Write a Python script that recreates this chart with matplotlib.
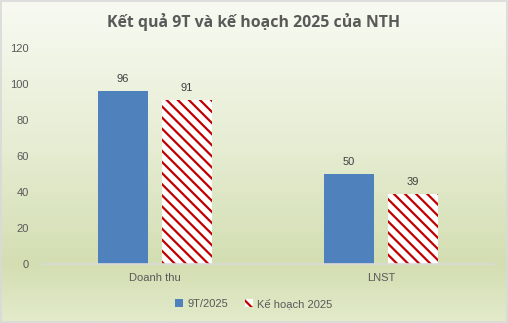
import numpy as np
import matplotlib
matplotlib.use("Agg")
import matplotlib.pyplot as plt
from matplotlib.patches import Patch, Rectangle
from matplotlib.colors import LinearSegmentedColormap

categories = ["Doanh thu", "LNST"]
series_names = ["9T/2025", "Kế hoạch 2025"]
actual_9t = [96, 50]
plan_2025 = [91, 39]
yticks = [0, 20, 40, 60, 80, 100, 120]

title = "Kết quả 9T và kế hoạch 2025 của NTH"

BLUE = "#4F81BD"
RED = "#C00000"
TXT = "#595959"

plt.rcParams["hatch.linewidth"] = 1.6

fig = plt.figure(figsize=(5.08, 3.23), dpi=100)

# gradient background
bg = fig.add_axes([0, 0, 1, 1], zorder=-10)
cmap = LinearSegmentedColormap.from_list(
    "bg", [(0.0, "#F8FAF2"), (0.45, "#E6EDD3"), (0.82, "#D3DEB2"), (1.0, "#E3EBCB")])
grad = np.linspace(0, 1, 256).reshape(-1, 1)
bg.imshow(grad, aspect="auto", cmap=cmap, extent=[0, 1, 0, 1], origin="upper")
bg.set_xlim(0, 1); bg.set_ylim(0, 1)
bg.axis("off")
bg.add_patch(Rectangle((0.001, 0.002), 0.997, 0.995, transform=bg.transAxes,
                       fill=False, edgecolor="#D9D9D9", linewidth=1.2))

ax = fig.add_axes([42 / 508, 1 - 264 / 323, 452 / 508, (264 - 48) / 323])
ax.patch.set_alpha(0)

x = np.arange(len(categories))
w = 0.221
off = 0.1416
b1 = ax.bar(x - off, actual_9t, w, color=BLUE, linewidth=0, label=series_names[0])
b2 = ax.bar(x + off, plan_2025, w, color="white", edgecolor=RED, hatch="\\\\\\",
            linewidth=0, label=series_names[1])

for bars, vals in ((b1, actual_9t), (b2, plan_2025)):
    for r, v in zip(bars, vals):
        ax.annotate(f"{v}", (r.get_x() + r.get_width() / 2, v), xytext=(0, 5),
                    textcoords="offset points", ha="center", va="bottom",
                    fontsize=8, color="#404040", family="Liberation Sans")

ax.set_xlim(-0.5, len(categories) - 0.5)
ax.set_ylim(0, 120)
ax.set_yticks(yticks)
ax.set_xticks(x)
ax.set_xticklabels(categories)
for lab in ax.get_xticklabels() + ax.get_yticklabels():
    lab.set_fontfamily("Liberation Sans")
    lab.set_fontsize(8)
    lab.set_color(TXT)
ax.tick_params(axis="both", length=0)
ax.tick_params(axis="y", pad=9.5)
ax.tick_params(axis="x", pad=6.5)
for s in ("top", "right", "left"):
    ax.spines[s].set_visible(False)
ax.spines["bottom"].set_color("#D9D9D9")
ax.spines["bottom"].set_linewidth(1.2)

fig.text(0.5, 1 - 22 / 323, title, ha="center", va="center", fontsize=11.4,
         fontweight="bold", color=TXT, family="Open Sans")

handles = [Patch(facecolor=BLUE, linewidth=0),
           Patch(facecolor="white", edgecolor=RED, hatch="\\\\\\", linewidth=0)]
leg = fig.legend(handles, series_names, loc="center", bbox_to_anchor=(0.5, 1 - 303.5 / 323),
                 ncol=2, frameon=False, handlelength=0.7, handleheight=0.7,
                 handletextpad=0.4, columnspacing=1.5,
                 prop={"family": "Liberation Sans", "size": 8})
for t in leg.get_texts():
    t.set_color(TXT)

fig.savefig("out.png", dpi=100)
